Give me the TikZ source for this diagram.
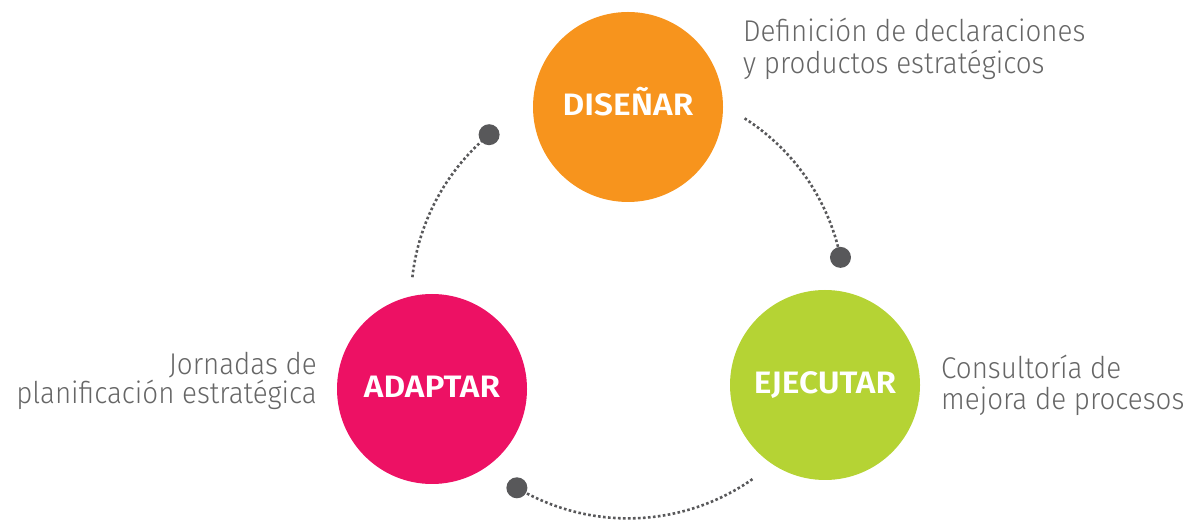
\documentclass[tikz,border=0pt]{standalone}
\usepackage{fontspec}
\setmainfont{Fira Sans Light}[FakeStretch=0.925]
\newfontfamily\lblfont{Fira Sans SemiBold}[FakeStretch=1.08]
\usetikzlibrary{calc}
\definecolor{cOrange}{HTML}{F7941D}
\definecolor{cMagenta}{HTML}{ED1164}
\definecolor{cGreen}{HTML}{B5D334}
\definecolor{cDot}{HTML}{58585A}
\definecolor{cText}{HTML}{666666}
\tikzset{
  phase/.style={circle, minimum size=190pt, inner sep=0pt, text=white,
    font=\lblfont\fontsize{31}{31}\selectfont, text height=21.4pt, text depth=5pt},
  enddot/.style={circle, fill=cDot, minimum size=21pt, inner sep=0pt},
  dotarc/.style={draw=cDot, line width=2.6pt, dash pattern=on 2.6pt off 2.4pt},
  desc/.style={text=cText, font=\fontsize{30}{33}\selectfont, inner sep=0pt}
}
\begin{document}
\begin{tikzpicture}[x=1pt,y=1pt]
\useasboundingbox (0,0) rectangle (1185,521);
\coordinate (O) at (628,219.6);
% dotted connectors
\coordinate (s1) at ($(O)+(57.5:217)$);
\coordinate (s2) at ($(O)+(173.6:217)$);
\coordinate (s3) at ($(O)+(305:217)$);
\draw[dotarc] (s1) arc[start angle=57.5, end angle=11.7, radius=217];
\draw[dotarc] (s2) arc[start angle=173.6, end angle=129.8, radius=217];
\draw[dotarc] (s3) arc[start angle=305, end angle=239.2, radius=217];
\node[enddot] (k1) at ($(O)+(11.7:217)$) {};
\node[enddot] (k2) at ($(O)+(129.8:217)$) {};
\node[enddot] (k3) at ($(O)+(239.2:217)$) {};
% phases
\node[phase, fill=cOrange] (dis) at (628,414) {DISEÑAR};
\node[phase, fill=cMagenta] (ada) at (432,132) {ADAPTAR};
\node[phase, fill=cGreen] (eje) at (825,136) {EJECUTAR};
% descriptions
\node[desc, anchor=base west] (d1) at (743,479.3) {Definición de declaraciones};
\node[desc, anchor=base west] (d2) at (743,447.5) {y productos estratégicos};
\node[desc, anchor=base east] (a1) at (317,146) {Jornadas de};
\node[desc, anchor=base east] (a2) at (317,117) {planificación estratégica};
\node[desc, anchor=base west] (e1) at (941,142) {Consultoría de};
\node[desc, anchor=base west] (e2) at (941,111) {mejora de procesos};
\end{tikzpicture}
\end{document}
